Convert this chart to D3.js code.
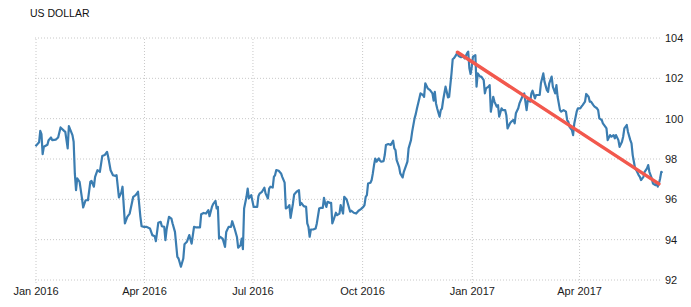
<!DOCTYPE html>
<html>
<head>
<meta charset="utf-8">
<script src="https://cdn.jsdelivr.net/npm/d3@7"></script>
<style>
  body { margin: 0; background: #fff; }
  svg { display: block; font-family: "Liberation Sans", Arial, sans-serif; }
  .grid line { stroke: #c8c8c8; stroke-dasharray: 1 2; }
  .grid .domain { display: none; }
  .grid text { fill: #1a1a1a; font-size: 11px; }
</style>
</head>
<body>
<div id="chart"></div>
<script>
// US Dollar index
var dates = [
  "2016-01-01","2016-01-04","2016-01-05","2016-01-06","2016-01-07","2016-01-08","2016-01-11","2016-01-12","2016-01-14","2016-01-15",
  "2016-01-18","2016-01-20","2016-01-22","2016-01-25","2016-01-26","2016-01-28","2016-01-29","2016-02-01","2016-02-02","2016-02-03",
  "2016-02-04","2016-02-05","2016-02-07","2016-02-09","2016-02-10","2016-02-12","2016-02-14","2016-02-16","2016-02-17","2016-02-19",
  "2016-02-20","2016-02-22","2016-02-24","2016-02-26","2016-02-28","2016-03-01","2016-03-02","2016-03-04","2016-03-06","2016-03-08",
  "2016-03-09","2016-03-11","2016-03-13","2016-03-14","2016-03-16","2016-03-18","2016-03-20","2016-03-23","2016-03-25","2016-03-27",
  "2016-03-29","2016-03-30","2016-04-01","2016-04-03","2016-04-06","2016-04-08","2016-04-10","2016-04-11","2016-04-13","2016-04-15",
  "2016-04-16","2016-04-18","2016-04-19","2016-04-20","2016-04-22","2016-04-24","2016-04-25","2016-04-27","2016-04-29","2016-04-30",
  "2016-05-02","2016-05-04","2016-05-05","2016-05-07","2016-05-09","2016-05-11","2016-05-13","2016-05-15","2016-05-18","2016-05-19",
  "2016-05-21","2016-05-23","2016-05-25","2016-05-26","2016-05-28","2016-05-29","2016-05-31","2016-06-01","2016-06-02","2016-06-03",
  "2016-06-04","2016-06-06","2016-06-08","2016-06-09","2016-06-11","2016-06-13","2016-06-14","2016-06-16","2016-06-18","2016-06-19",
  "2016-06-21","2016-06-22","2016-06-23","2016-06-24","2016-06-26","2016-06-27","2016-06-28","2016-06-30","2016-07-02","2016-07-05",
  "2016-07-06","2016-07-07","2016-07-09","2016-07-11","2016-07-12","2016-07-14","2016-07-15","2016-07-16","2016-07-18","2016-07-19",
  "2016-07-20","2016-07-21","2016-07-23","2016-07-25","2016-07-26","2016-07-28","2016-07-29","2016-07-31","2016-08-01","2016-08-02",
  "2016-08-04","2016-08-05","2016-08-07","2016-08-09","2016-08-10","2016-08-11","2016-08-13","2016-08-15","2016-08-16","2016-08-17",
  "2016-08-18","2016-08-19","2016-08-21","2016-08-23","2016-08-24","2016-08-26","2016-08-27","2016-08-29","2016-08-30","2016-08-31",
  "2016-09-01","2016-09-02","2016-09-04","2016-09-05","2016-09-06","2016-09-07","2016-09-09","2016-09-10","2016-09-12","2016-09-13",
  "2016-09-15","2016-09-16","2016-09-18","2016-09-19","2016-09-21","2016-09-22","2016-09-24","2016-09-26","2016-09-28","2016-09-30",
  "2016-10-02","2016-10-03","2016-10-04","2016-10-05","2016-10-06","2016-10-08","2016-10-09","2016-10-10","2016-10-11","2016-10-12",
  "2016-10-13","2016-10-15","2016-10-16","2016-10-17","2016-10-19","2016-10-20","2016-10-21","2016-10-23","2016-10-25","2016-10-27",
  "2016-10-28","2016-10-29","2016-10-30","2016-11-01","2016-11-02","2016-11-04","2016-11-05","2016-11-07","2016-11-08","2016-11-09",
  "2016-11-11","2016-11-12","2016-11-14","2016-11-15","2016-11-16","2016-11-18","2016-11-19","2016-11-21","2016-11-22","2016-11-23",
  "2016-11-25","2016-11-27","2016-11-29","2016-11-30","2016-12-01","2016-12-02","2016-12-03","2016-12-04","2016-12-05","2016-12-06",
  "2016-12-07","2016-12-08","2016-12-10","2016-12-11","2016-12-12","2016-12-13","2016-12-15","2016-12-16","2016-12-17","2016-12-18",
  "2016-12-20","2016-12-21","2016-12-23","2016-12-25","2016-12-26","2016-12-28","2016-12-29","2016-12-30","2016-12-31","2017-01-01",
  "2017-01-02","2017-01-04","2017-01-05","2017-01-06","2017-01-08","2017-01-09","2017-01-11","2017-01-12","2017-01-13","2017-01-15",
  "2017-01-16","2017-01-17","2017-01-19","2017-01-20","2017-01-22","2017-01-23","2017-01-24","2017-01-26","2017-01-27","2017-01-29",
  "2017-01-30","2017-01-31","2017-02-02","2017-02-03","2017-02-05","2017-02-06","2017-02-07","2017-02-09","2017-02-10","2017-02-13",
  "2017-02-14","2017-02-16","2017-02-17","2017-02-19","2017-02-20","2017-02-21","2017-02-23","2017-02-24","2017-02-27","2017-02-28",
  "2017-03-02","2017-03-03","2017-03-05","2017-03-06","2017-03-07","2017-03-09","2017-03-10","2017-03-12","2017-03-13","2017-03-14",
  "2017-03-16","2017-03-17","2017-03-19","2017-03-21","2017-03-22","2017-03-23","2017-03-24","2017-03-26","2017-03-27","2017-03-28",
  "2017-03-30","2017-03-31","2017-04-02","2017-04-03","2017-04-04","2017-04-06","2017-04-07","2017-04-09","2017-04-10","2017-04-11",
  "2017-04-13","2017-04-14","2017-04-16","2017-04-17","2017-04-18","2017-04-20","2017-04-21","2017-04-23","2017-04-24","2017-04-25",
  "2017-04-27","2017-04-28","2017-04-30","2017-05-01","2017-05-02","2017-05-04","2017-05-05","2017-05-07","2017-05-08","2017-05-09",
  "2017-05-11","2017-05-12","2017-05-14","2017-05-15","2017-05-16","2017-05-17","2017-05-18","2017-05-19","2017-05-21","2017-05-22",
  "2017-05-23","2017-05-25","2017-05-26","2017-05-28","2017-05-29","2017-05-30","2017-06-01","2017-06-02","2017-06-04","2017-06-05",
  "2017-06-06","2017-06-07","2017-06-08","2017-06-09","2017-06-10"
];
var values = [
  98.61,98.80,99.37,99.21,98.22,98.58,98.68,98.91,99.04,98.91,
  98.94,99.04,99.54,99.37,99.32,98.50,99.61,99.16,98.83,97.26,
  96.43,97.01,96.84,96.02,95.57,95.93,95.93,96.84,96.89,96.60,
  97.09,97.42,97.34,98.12,98.17,98.33,98.08,97.42,97.17,97.14,
  97.17,96.07,96.31,96.60,94.78,95.11,95.27,96.10,96.18,96.35,
  95.11,94.64,94.61,94.61,94.53,94.20,94.15,93.90,94.81,94.86,
  94.64,94.61,93.95,94.49,95.11,95.02,94.78,94.36,93.12,93.04,
  92.63,93.04,93.75,93.87,94.20,93.78,94.61,94.58,94.58,95.24,
  95.30,95.27,95.44,95.14,95.60,95.74,95.90,95.52,95.60,94.03,
  94.11,94.03,93.62,94.36,94.61,94.61,94.89,94.53,94.11,93.58,
  93.70,94.03,93.50,95.52,96.10,96.51,96.02,96.18,95.60,95.60,
  96.13,96.26,96.35,96.55,96.27,96.02,96.51,96.60,96.56,97.09,
  97.18,97.43,97.39,97.26,97.09,96.80,95.52,95.60,95.69,95.06,
  95.77,96.22,96.35,96.43,95.69,95.80,95.64,95.60,94.78,94.61,
  94.12,94.48,94.48,94.53,94.78,95.52,95.55,95.55,96.05,95.77,
  95.60,95.85,95.80,95.80,94.78,94.94,95.31,95.19,95.27,95.69,
  95.27,96.10,95.97,95.77,95.36,95.41,95.31,95.27,95.41,95.49,
  95.60,95.69,96.10,96.18,96.76,96.80,96.93,97.26,97.67,98.00,
  97.84,98.00,97.89,97.84,97.87,98.17,98.67,98.72,98.67,98.88,
  98.50,98.42,97.92,97.59,97.26,97.06,97.34,97.67,97.84,98.50,
  98.91,99.33,99.99,100.20,100.48,100.98,101.23,101.15,101.06,101.73,
  101.48,101.39,101.23,100.87,101.31,100.73,100.48,100.27,100.07,100.40,
  100.48,100.90,101.56,101.31,101.03,101.06,102.22,102.92,102.97,103.05,
  103.25,103.08,103.02,103.05,102.97,103.21,103.30,102.47,102.19,102.55,
  103.05,103.13,101.56,102.22,102.06,102.06,101.89,101.23,101.48,101.56,
  101.64,100.32,101.06,100.82,100.57,100.65,100.07,100.49,100.40,100.40,
  100.15,99.49,99.74,99.82,99.91,99.74,100.24,100.49,100.73,101.15,
  101.23,100.40,100.90,100.82,101.23,101.36,100.98,101.15,101.15,101.73,
  102.22,101.81,101.39,101.31,101.73,102.06,101.56,101.23,101.64,101.06,
  100.40,100.32,100.40,100.32,99.91,99.82,99.57,99.41,99.16,99.74,
  100.32,100.49,100.49,100.57,100.65,100.82,101.20,101.06,100.82,100.82,
  100.65,100.57,100.49,100.40,99.99,99.91,99.74,99.58,99.49,98.91,
  99.16,99.08,99.16,99.00,99.16,98.91,98.58,98.83,99.08,99.49,
  99.66,99.33,98.91,98.75,98.17,97.84,97.51,97.43,97.18,97.09,
  96.93,97.09,97.34,97.51,97.67,97.34,97.01,96.76,96.68,96.76,
  96.60,96.76,97.01,97.34,97.29
];

// red trend line drawn over the 2017 slide
var trendDates = ["2016-12-20", "2017-06-07"];
var trendValues = [103.27, 96.74];

var xTicks = ["2016-01-01", "2016-04-01", "2016-07-01", "2016-10-01", "2017-01-01", "2017-04-01"];
var yTicks = [92, 94, 96, 98, 100, 102, 104];

var W = 691, H = 307;
var parse = d3.timeParse("%Y-%m-%d");

var data = dates.map(function(d, i) { return {date: parse(d), value: values[i]}; });
var trend = trendDates.map(function(d, i) { return {date: parse(d), value: trendValues[i]}; });

var svg = d3.select("#chart").append("svg")
    .attr("width", W)
    .attr("height", H);

var x = d3.scaleTime()
    .domain([parse("2016-01-01"), parse("2017-06-10")])
    .range([35.5, 662.5]);

var y = d3.scaleLinear()
    .domain([92, 104])
    .range([279.5, 37.5]);

// title
svg.append("text")
    .attr("x", 30)
    .attr("y", 17)
    .attr("font-size", 10.5)
    .attr("fill", "#111")
    .text("US DOLLAR");

// horizontal grid + right labels
svg.append("g")
    .attr("class", "grid")
    .attr("transform", "translate(660,0)")
    .call(d3.axisRight(y).tickValues(yTicks).tickSize(-627).tickPadding(5))
    .selectAll("text")
        .attr("dy", "0.36em");

// vertical grid + date labels
svg.append("g")
    .attr("class", "grid")
    .attr("transform", "translate(0,283)")
    .call(d3.axisBottom(x)
        .tickValues(xTicks.map(parse))
        .tickFormat(d3.timeFormat("%b %Y"))
        .tickSize(-245.5)
        .tickPadding(4));

var line = d3.line()
    .x(function(d) { return x(d.date); })
    .y(function(d) { return y(d.value); });

svg.append("path")
    .datum(data)
    .attr("fill", "none")
    .attr("stroke", "#3b7db1")
    .attr("stroke-width", 2.2)
    .attr("stroke-linejoin", "round")
    .attr("d", line);

svg.append("path")
    .datum(trend)
    .attr("fill", "none")
    .attr("stroke", "#f2584d")
    .attr("stroke-width", 3.5)
    .attr("stroke-linecap", "round")
    .attr("d", line);
</script>
</body>
</html>
